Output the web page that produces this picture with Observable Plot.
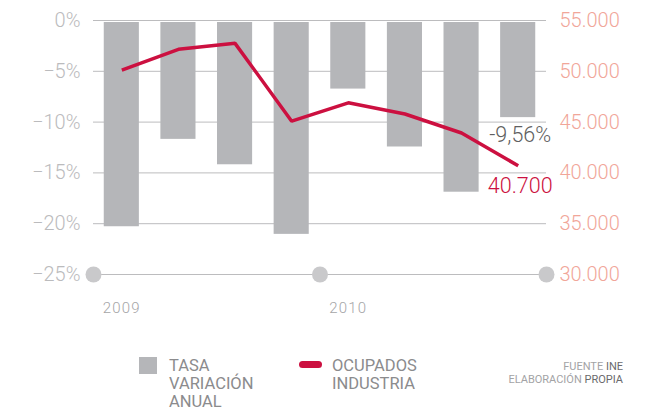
<!DOCTYPE html>
<html>
<head>
<meta charset="utf-8">
<script src="https://cdn.jsdelivr.net/npm/d3@7"></script>
<script src="https://cdn.jsdelivr.net/npm/@observablehq/plot@0.6"></script>
<style>
  html, body { margin: 0; padding: 0; background: #fff; }
  #wrap { position: relative; width: 645px; height: 411px; overflow: hidden; font-family: Roboto, "DejaVu Sans", sans-serif; }
  #chart { position: absolute; left: 0; top: 0; }
  g[aria-description="years"] text { letter-spacing: 1.2px; }
  .sw { position: absolute; }
  .lab { position: absolute; font-size: 16.5px; line-height: 18px; color: #8b8b8d; text-transform: uppercase; }
  .src { position: absolute; right: 22px; top: 361px; font-size: 11px; line-height: 12.5px; text-align: right; color: #a3a3a5; }
  .src b { font-weight: 400; color: #6a6a6c; }
</style>
</head>
<body>
<div id="wrap">
  <div id="chart"></div>
  <div class="sw" style="left:139px;top:357px;width:18px;height:17px;background:#b5b6b9"></div>
  <div class="lab" style="left:169px;top:357px">TASA<br>VARIACIÓN<br>ANUAL</div>
  <div class="sw" style="left:299px;top:361px;width:23px;height:7px;border-radius:3.5px;background:#cc1040"></div>
  <div class="lab" style="left:332px;top:357px">OCUPADOS<br>INDUSTRIA</div>
  <div class="src">FUENTE <b>INE</b><br>ELABORACIÓN <b>PROPIA</b></div>
</div>
<script>
const quarters = ["2009-T1", "2009-T2", "2009-T3", "2009-T4", "2010-T1", "2010-T2", "2010-T3", "2010-T4"];
const tasa = [-20.3, -11.7, -14.2, -21.05, -6.75, -12.45, -16.9, -9.56];
const ocupados = [50120, 52160, 52750, 45090, 46900, 45800, 43930, 40700];
const leftTicks = [0, -5, -10, -15, -20, -25];
const rightTicks = [55000, 50000, 45000, 40000, 35000, 30000];
const years = ["2009", "2010"];
const yearStarts = [0, 4, 8];

const toPct = v => (v - 55000) / 1000;
const fmtThousands = v => d3.format(",")(v).replace(/,/g, ".");
const data = quarters.map((q, i) => ({ q, i, tasa: tasa[i], ocup: ocupados[i] }));
const last = data[data.length - 1];

const chart = Plot.plot({
  width: 645,
  height: 330,
  marginTop: 20,
  marginBottom: 56,
  marginLeft: 93,
  marginRight: 99,
  style: { fontFamily: "Roboto, 'DejaVu Sans', sans-serif", background: "transparent" },
  x: { domain: [0, 8], axis: null },
  y: { domain: [-25, 0], axis: null },
  marks: [
    Plot.ruleY(leftTicks, { stroke: "#bcbcbe", strokeWidth: 1 }),
    Plot.rectY(data, {
      x1: d => d.i + 0.19, x2: d => d.i + 0.81,
      y1: 0, y2: "tasa", fill: "#b5b6b9", insetTop: 2
    }),
    Plot.dot(yearStarts, { x: d => d, y: -25, r: 8, fill: "#c9c9cb", stroke: "none" }),
    Plot.line(data, {
      x: d => d.i + 0.5, y: d => toPct(d.ocup),
      stroke: "#cc1040", strokeWidth: 3.5, strokeLinejoin: "miter", strokeLinecap: "butt"
    }),
    Plot.axisY(leftTicks, {
      anchor: "left", tickSize: 0, tickPadding: 13,
      tickFormat: d => d === 0 ? "0%" : "\u2212" + (-d) + "%",
      fontSize: 20, fontWeight: 300, fill: "#bbbbbd", label: null
    }),
    Plot.axisY(rightTicks.map(toPct), {
      anchor: "right", tickSize: 0, tickPadding: 13,
      tickFormat: d => fmtThousands(Math.round(55000 + d * 1000)),
      fontSize: 20, fontWeight: 300, fill: "#f1a699", label: null
    }),
    Plot.text(years, {
      x: (d, i) => i * 4 + 0.5, y: -25, dy: 34, text: d => d,
      fontSize: 15, fontWeight: 300, fill: "#a5a5a7", ariaDescription: "years"
    }),
    Plot.text([last], {
      x: d => d.i + 0.5, y: "tasa", dy: 17, dx: 2,
      text: d => d3.format(".2f")(d.tasa).replace(".", ",").replace("\u2212", "-") + "%",
      fontSize: 21.5, fontWeight: 300, fill: "#5f5f61"
    }),
    Plot.text([last], {
      x: d => d.i + 0.5, y: d => toPct(d.ocup), dy: 20, dx: 2,
      text: d => fmtThousands(d.ocup),
      fontSize: 21.5, fontWeight: 300, fill: "#cc1040"
    })
  ]
});
document.getElementById("chart").appendChild(chart);
</script>
</body>
</html>
